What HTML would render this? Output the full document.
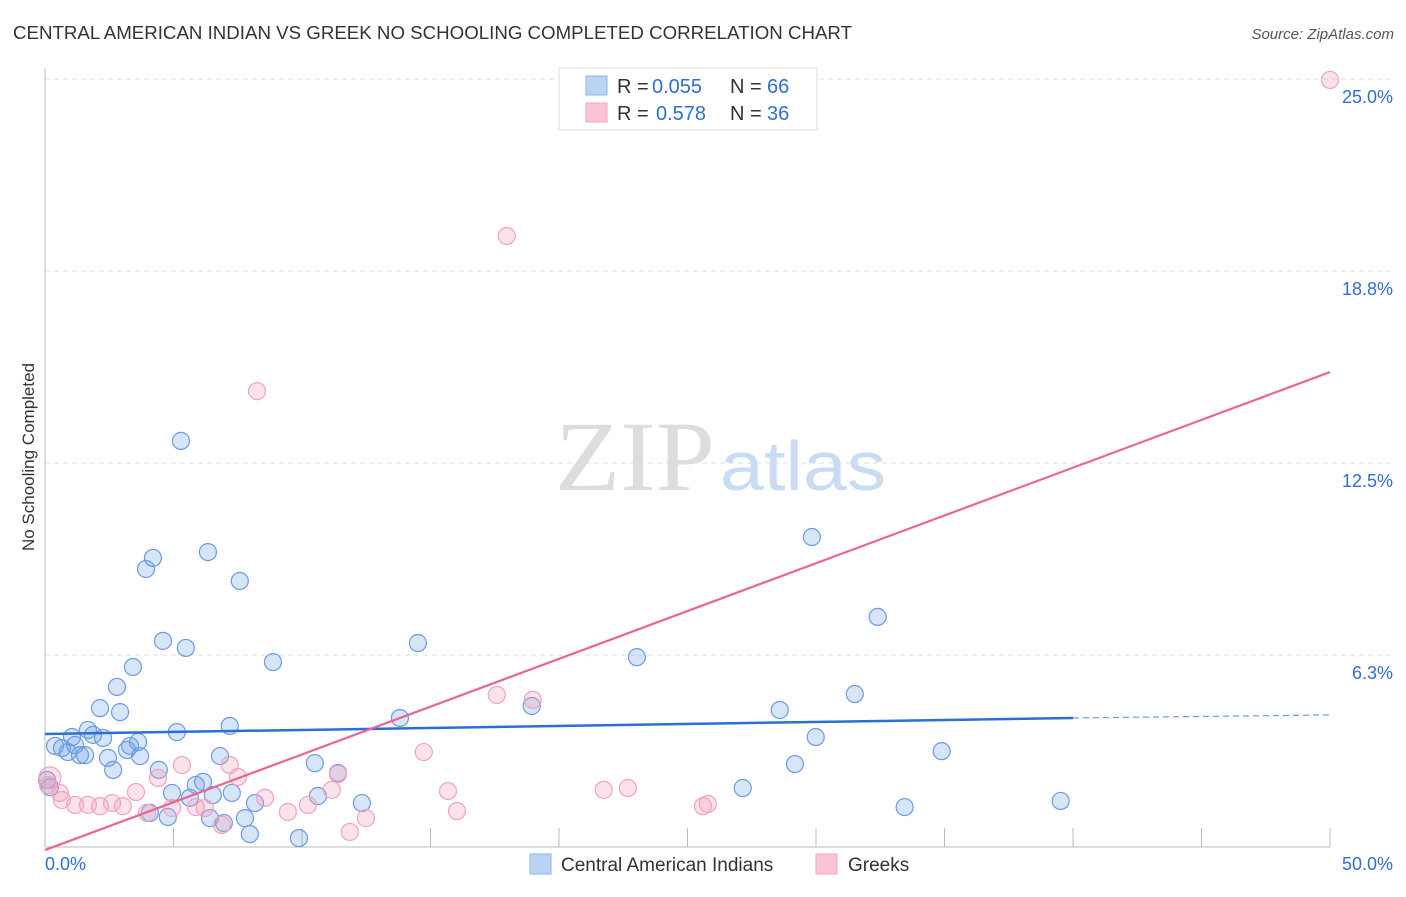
<!DOCTYPE html>
<html><head><meta charset="utf-8"><style>
body{margin:0;background:#fff;font-family:"Liberation Sans",sans-serif}
</style></head><body>
<svg id="chart" width="1406" height="892" xmlns="http://www.w3.org/2000/svg" font-family="Liberation Sans, sans-serif">
<text x="13" y="39" font-size="18" fill="#333" textLength="839" lengthAdjust="spacingAndGlyphs">CENTRAL AMERICAN INDIAN VS GREEK NO SCHOOLING COMPLETED CORRELATION CHART</text>
<text x="1394" y="39" font-size="15" fill="#555" font-style="italic" text-anchor="end">Source: ZipAtlas.com</text>
<text transform="translate(34,457) rotate(-90)" font-size="17" fill="#333" text-anchor="middle">No Schooling Completed</text>
<g>
<text x="555" y="490" font-size="100" fill="#ddd" font-family="Liberation Serif, serif" textLength="160" lengthAdjust="spacingAndGlyphs">ZIP</text>
<text x="720" y="490" font-size="70" fill="#c9dcf3" textLength="166" lengthAdjust="spacingAndGlyphs">atlas</text>
</g>
<g id="grid"></g>
<g id="marks"></g>
<g>
<rect x="559" y="68" width="258" height="62" fill="#fff" stroke="#ddd"/>
<rect x="586" y="76" width="21" height="19" fill="#b9d3f5" stroke="#8fb4ea"/>
<rect x="586" y="103" width="21" height="19" fill="#f9c4d3" stroke="#f2a6bd"/>
<text x="617" y="93" font-size="20" fill="#333">R =</text>
<text x="652" y="93" font-size="20" fill="#2f6fd0">0.055</text>
<text x="730" y="93" font-size="20" fill="#333">N =</text>
<text x="767" y="93" font-size="20" fill="#2f6fd0">66</text>
<text x="617" y="120" font-size="20" fill="#333">R =</text>
<text x="656" y="120" font-size="20" fill="#2f6fd0">0.578</text>
<text x="730" y="120" font-size="20" fill="#333">N =</text>
<text x="767" y="120" font-size="20" fill="#2f6fd0">36</text>
</g>
<g>
<rect x="530" y="854" width="21" height="20" fill="#b9d3f5" stroke="#8fb4ea"/>
<text x="561" y="871" font-size="19" fill="#333">Central American Indians</text>
<rect x="816" y="854" width="21" height="20" fill="#f9c4d3" stroke="#f2a6bd"/>
<text x="848" y="871" font-size="19" fill="#333">Greeks</text>
</g>
</svg>
<script>
const yTicks=[6.25,12.5,18.75,25];
const yTickLabels=["6.3%","12.5%","18.8%","25.0%"];
const xTicks=[0,5,10,15,20,25,30,35,40,45,50];
const blueX=[0.39,0.66,0.89,1.17,1.36,1.05,1.67,1.87,1.56,2.14,2.26,2.45,2.65,2.80,2.92,3.19,3.31,3.42,3.62,3.70,3.93,4.20,4.08,4.43,4.59,4.78,4.94,5.13,5.29,5.48,5.64,5.87,6.15,6.34,6.42,6.53,6.81,6.96,7.19,7.27,7.58,7.78,7.97,8.17,8.87,9.88,10.50,10.62,11.40,12.33,13.81,14.51,18.94,23.03,27.15,28.59,29.18,29.84,29.99,31.51,32.40,33.45,34.89,39.52,0.19,0.08];
const blueY=[3.29,3.22,3.09,3.32,2.99,3.58,3.81,3.65,2.99,4.52,3.55,2.90,2.51,5.21,4.39,3.16,3.29,5.86,3.42,2.96,9.05,9.41,1.11,2.51,6.71,0.98,1.76,3.74,13.22,6.48,1.60,2.02,2.12,9.60,0.94,1.69,2.96,0.78,3.94,1.76,8.66,0.94,0.42,1.43,6.02,0.29,2.73,1.66,2.41,1.43,4.20,6.64,4.59,6.18,1.92,4.46,2.70,10.09,3.58,4.98,7.49,1.30,3.12,1.50,1.95,2.18];
const pinkX=[50.0,17.97,8.25,0.19,0.12,0.58,0.66,1.17,1.67,2.14,2.61,3.03,3.54,3.97,4.40,4.94,5.33,5.87,6.22,6.88,7.19,7.51,8.56,9.45,10.23,11.16,11.40,11.86,12.49,14.74,15.68,16.03,17.58,18.98,21.74,22.68,25.60,25.79];
const pinkY=[24.97,19.89,14.84,2.25,2.02,1.76,1.53,1.37,1.37,1.33,1.43,1.33,1.79,1.11,2.25,1.27,2.67,1.30,1.27,0.72,2.67,2.28,1.60,1.14,1.37,1.86,2.38,0.49,0.94,3.09,1.82,1.17,4.95,4.79,1.86,1.92,1.33,1.40];
const blueTrend=[3.68,4.20,4.30];
const pinkTrend=[-0.1,15.46];
const NS="http://www.w3.org/2000/svg";
const sx=v=>45+v/50*1285, sy=v=>847-v/25*768;
function mk(tag,attrs,parent){const e=document.createElementNS(NS,tag);for(const k in attrs)e.setAttribute(k,attrs[k]);parent.appendChild(e);return e;}
const grid=document.getElementById('grid'), marks=document.getElementById('marks');
yTicks.forEach((t,i)=>{
 const l=mk('line',{x1:45,x2:1394,y1:sy(t),y2:sy(t),stroke:'#ddd','stroke-dasharray':'5,4'},grid);
 
 
 const tx=mk('text',{x:1393,y:sy(t)+24,'font-size':18,fill:'#2f6fd0','text-anchor':'end'},grid);
 tx.textContent=yTickLabels[i];
 
 
});
const ax=mk('line',{x1:45,x2:1330,y1:847,y2:847,stroke:'#bbb'},grid);


const ay=mk('line',{x1:45,x2:45,y1:68,y2:847,stroke:'#bbb'},grid);


xTicks.slice(1).forEach(t=>{
 const l=mk('line',{x1:sx(t),x2:sx(t),y1:828,y2:847,stroke:'#bbb'},grid);
 
 
});
[["0.0%",45,'start'],["50.0%",1393,'end']].forEach(a=>{
 const t=mk('text',{x:a[1],y:870,'font-size':18,fill:'#2f6fd0','text-anchor':a[2]},grid);
 t.textContent=a[0];
 
 
});
blueX.forEach((x,i)=>{
 const c=mk('circle',{cx:sx(x),cy:sy(blueY[i]),r:8.5,fill:'rgba(110,160,230,0.28)',stroke:'#6c9be0','stroke-width':1.2},marks);
 
 
});
pinkX.forEach((x,i)=>{
 const c=mk('circle',{cx:sx(x),cy:sy(pinkY[i]),r:i==3?11:8.5,fill:'rgba(245,160,185,0.3)',stroke:'#f2a3bb','stroke-width':1.2},marks);
 
 
});
const b1=mk('line',{x1:sx(0),y1:sy(blueTrend[0]),x2:sx(40),y2:sy(blueTrend[1]),stroke:'#2a6fd6','stroke-width':2.5},marks);


const b2=mk('line',{x1:sx(40),y1:sy(blueTrend[1]),x2:sx(50),y2:sy(blueTrend[2]),stroke:'#6c9be0','stroke-width':1.2,'stroke-dasharray':'6,4'},marks);


const p1=mk('line',{x1:sx(0),y1:sy(pinkTrend[0]),x2:sx(50),y2:sy(pinkTrend[1]),stroke:'#e8668f','stroke-width':2.2},marks);


</script>
</body></html>
